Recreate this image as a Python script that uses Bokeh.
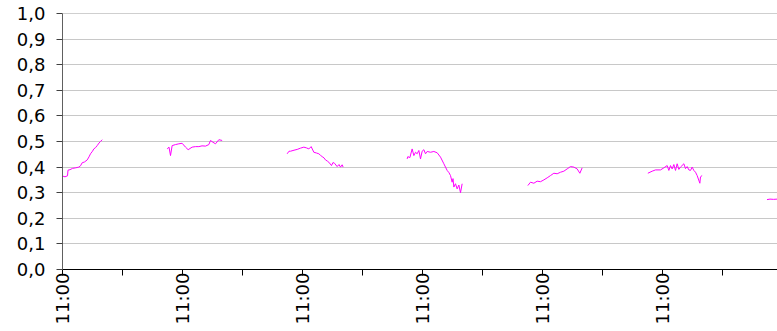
import math
import numpy as np
from bokeh.plotting import figure
from bokeh.models import FixedTicker, CustomJSTickFormatter, Span, Range1d
from bokeh.embed import file_html
from bokeh.resources import INLINE

# hours since the first 11:00 tick (24 h per labelled tick)
seg1_h = [0.0, 0.5, 1.0, 1.1, 1.5, 2.0, 2.6, 3.26, 3.6, 3.94, 4.4, 4.94, 5.3, 5.6, 6.0, 6.26, 6.6, 6.94, 7.3, 7.6, 7.94]
seg1_v = [0.365, 0.362, 0.366, 0.388, 0.390, 0.395, 0.397, 0.400, 0.405, 0.417, 0.420, 0.428, 0.440, 0.452, 0.462, 0.471, 0.476, 0.484, 0.494, 0.500, 0.507]

seg2_h = [20.93, 21.3, 21.6, 21.93, 22.6, 23.27, 23.93, 24.6, 25.13, 25.93, 26.6, 27.27, 27.9, 28.6, 29.27, 29.6, 30.1, 30.6, 31.27, 31.93]
seg2_v = [0.471, 0.478, 0.445, 0.484, 0.488, 0.491, 0.493, 0.478, 0.468, 0.478, 0.480, 0.480, 0.483, 0.482, 0.488, 0.504, 0.497, 0.491, 0.507, 0.504]

seg3_h = [44.93, 45.3, 45.6, 46.3, 46.93, 47.6, 48.27, 48.8, 49.27, 49.73, 50.27, 50.8, 51.27, 51.6, 51.93, 52.3, 52.6, 53.0, 53.27, 53.8, 54.1, 54.4, 54.93, 55.3, 55.6, 55.93, 56.13]
seg3_v = [0.452, 0.462, 0.462, 0.466, 0.469, 0.474, 0.478, 0.475, 0.471, 0.480, 0.458, 0.455, 0.452, 0.446, 0.441, 0.436, 0.428, 0.423, 0.419, 0.406, 0.418, 0.415, 0.402, 0.410, 0.400, 0.409, 0.400]

seg4_h = [68.93, 69.07, 69.47, 69.93, 70.27, 70.6, 70.93, 71.27, 71.6, 71.93, 72.27, 72.6, 72.93, 73.6, 74.27, 74.93, 75.6, 76.27, 76.93, 77.3, 77.6, 77.93, 78.1, 78.27, 78.6, 78.93, 79.27, 79.6, 79.93]
seg4_v = [0.432, 0.441, 0.437, 0.471, 0.445, 0.458, 0.452, 0.465, 0.432, 0.462, 0.468, 0.452, 0.461, 0.458, 0.461, 0.456, 0.439, 0.413, 0.387, 0.378, 0.367, 0.341, 0.355, 0.322, 0.335, 0.315, 0.330, 0.300, 0.335]

seg5_h = [93.07, 93.6, 94.27, 94.93, 95.6, 96.27, 96.93, 97.6, 98.27, 98.93, 99.6, 100.27, 100.93, 101.6, 102.27, 102.93, 103.47, 103.93]
seg5_v = [0.328, 0.341, 0.337, 0.345, 0.343, 0.350, 0.358, 0.367, 0.376, 0.374, 0.380, 0.384, 0.393, 0.402, 0.400, 0.393, 0.376, 0.397]

seg6_h = [117.07, 117.93, 118.6, 119.6, 120.27, 120.93, 121.27, 121.6, 121.93, 122.27, 122.6, 122.93, 123.27, 123.6, 124.27, 124.6, 124.93, 125.27, 125.6, 125.93, 126.27, 126.6, 126.93, 127.47, 127.6, 127.93]
seg6_v = [0.376, 0.384, 0.389, 0.389, 0.397, 0.406, 0.387, 0.406, 0.393, 0.410, 0.387, 0.413, 0.391, 0.400, 0.413, 0.394, 0.402, 0.389, 0.387, 0.400, 0.387, 0.380, 0.367, 0.337, 0.362, 0.367]

seg7_h = [140.9, 141.5, 142.2, 143.0]
seg7_v = [0.273, 0.275, 0.274, 0.275]

y_ticks = [round(i * 0.1, 1) for i in range(11)]
x_ticks = [12 * i for i in range(13)]
x_label = "11:00"

segments = [(seg1_h, seg1_v), (seg2_h, seg2_v), (seg3_h, seg3_v), (seg4_h, seg4_v),
            (seg5_h, seg5_v), (seg6_h, seg6_v), (seg7_h, seg7_v)]

p = figure(width=777, height=331, output_backend="svg", toolbar_location=None,
           x_range=Range1d(0, 143), y_range=Range1d(0, 1.0),
           min_border_left=62, min_border_top=13, min_border_bottom=62, min_border_right=0)

p.multi_line(xs=[s[0] for s in segments], ys=[s[1] for s in segments],
             line_color="#ff00ff", line_width=1)

p.outline_line_color = None
p.background_fill_color = "white"
p.border_fill_color = "white"

p.xgrid.visible = False
p.ygrid.grid_line_color = "#c8c8c8"
p.ygrid.grid_line_width = 1
p.add_layout(Span(location=1.0, dimension="width", line_color="#a0a0a0", line_width=1))

p.yaxis.ticker = FixedTicker(ticks=y_ticks, minor_ticks=[])
p.yaxis.formatter = CustomJSTickFormatter(code="return tick.toFixed(1).replace('.', ',');")
p.yaxis.axis_line_color = "#606060"
p.yaxis.major_tick_line_color = "#404040"
p.yaxis.major_tick_out = 6
p.yaxis.major_tick_in = 0
p.yaxis.minor_tick_line_color = None
p.yaxis.major_label_standoff = 11

p.xaxis.ticker = FixedTicker(ticks=x_ticks, minor_ticks=[])
p.xaxis.formatter = CustomJSTickFormatter(args=dict(lbl=x_label),
                                          code="return (Math.round(tick) % 24 == 0) ? lbl : '';")
p.xaxis.axis_line_color = "black"
p.xaxis.major_tick_line_color = "black"
p.xaxis.major_tick_out = 6
p.xaxis.major_tick_in = 0
p.xaxis.minor_tick_line_color = None
p.xaxis.major_label_orientation = math.pi / 2
p.xaxis.major_label_standoff = -3

for ax in (p.xaxis, p.yaxis):
    ax.major_label_text_font = "DejaVu Sans"
    ax.major_label_text_font_size = "18px"
    ax.major_label_text_color = "black"

open("out.html", "w").write(file_html(p, INLINE))
